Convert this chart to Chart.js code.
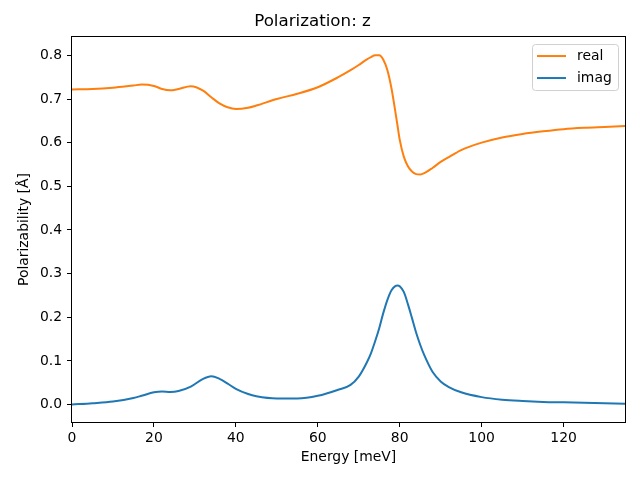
<!DOCTYPE html>
<html>
<head>
<meta charset="utf-8">
<script src="https://cdn.jsdelivr.net/npm/chart.js@4/dist/chart.umd.min.js"></script>
<style>
  html, body { margin: 0; padding: 0; background: #fff; }
  canvas { display: block; }
</style>
</head>
<body>
<canvas id="chart" width="640" height="480"></canvas>
<script>
// energy grid [meV] shared by both series
const energy = [0, 5, 10, 15, 17, 20, 22, 24, 26, 29, 32, 34, 36, 38, 40, 43, 45, 50, 55, 60, 65, 68, 70, 72, 73, 74, 75, 76, 77, 78, 79, 79.5, 80, 81, 82, 83, 84, 85, 86, 88, 90, 92, 95, 100, 105, 110, 115, 120, 125, 130, 135];
const realPart = [0.722, 0.723, 0.726, 0.731, 0.733, 0.730, 0.723, 0.720, 0.723, 0.729, 0.719, 0.704, 0.690, 0.681, 0.677, 0.680, 0.685, 0.700, 0.712, 0.727, 0.750, 0.766, 0.778, 0.791, 0.796, 0.800, 0.800, 0.790, 0.766, 0.724, 0.667, 0.637, 0.607, 0.568, 0.546, 0.534, 0.528, 0.527, 0.530, 0.542, 0.556, 0.567, 0.583, 0.600, 0.612, 0.620, 0.626, 0.631, 0.634, 0.636, 0.638];
const imagPart = [0.000, 0.003, 0.007, 0.015, 0.020, 0.028, 0.030, 0.029, 0.031, 0.041, 0.059, 0.065, 0.059, 0.048, 0.036, 0.024, 0.019, 0.014, 0.014, 0.020, 0.034, 0.045, 0.064, 0.097, 0.118, 0.145, 0.175, 0.210, 0.240, 0.262, 0.272, 0.273, 0.271, 0.258, 0.230, 0.198, 0.165, 0.137, 0.113, 0.075, 0.053, 0.040, 0.028, 0.017, 0.011, 0.008, 0.006, 0.005, 0.004, 0.003, 0.002];
const xTicks = [0, 20, 40, 60, 80, 100, 120];
const yTicks = [0.0, 0.1, 0.2, 0.3, 0.4, 0.5, 0.6, 0.7, 0.8];

const FONT = "'DejaVu Sans', sans-serif";
const points = vals => energy.map((e, i) => ({ x: e, y: vals[i] }));

// matplotlib-like frame round the plot area
const frame = {
  id: "frame",
  afterDraw(chart) {
    const { ctx, chartArea: a } = chart;
    ctx.save();
    ctx.strokeStyle = "#000";
    ctx.lineWidth = 1;
    ctx.strokeRect(Math.round(a.left) - 0.5, Math.round(a.top) - 0.5, Math.round(a.right - a.left) + 1, Math.round(a.bottom - a.top) + 1);
    ctx.restore();
  }
};

// legend box in the upper right corner, like matplotlib's
const boxLegend = {
  id: "boxLegend",
  afterDraw(chart) {
    const { ctx, chartArea: a } = chart;
    const w = 86, h = 46;
    const x = a.right - 7 - w, y = a.top + 7;
    ctx.save();
    ctx.fillStyle = "rgba(255,255,255,0.8)";
    ctx.strokeStyle = "#d0d0d0";
    ctx.lineWidth = 1;
    ctx.beginPath();
    ctx.roundRect(x + 0.5, y + 0.5, w, h, 3);
    ctx.fill();
    ctx.stroke();
    ctx.font = `13.9px ${FONT}`;
    ctx.textBaseline = "middle";
    chart.data.datasets.forEach((ds, i) => {
      const ly = y + 12 + i * 22;
      ctx.strokeStyle = ds.borderColor;
      ctx.lineWidth = 2;
      ctx.beginPath();
      ctx.moveTo(x + 5, ly);
      ctx.lineTo(x + 34, ly);
      ctx.stroke();
      ctx.fillStyle = "#000";
      ctx.fillText(ds.label, x + 45, ly);
    });
    ctx.restore();
  }
};

new Chart(document.getElementById("chart"), {
  type: "line",
  data: {
    datasets: [
      { label: "real", data: points(realPart), borderColor: "#ff7f0e", borderWidth: 2, pointRadius: 0, cubicInterpolationMode: "monotone", fill: false },
      { label: "imag", data: points(imagPart), borderColor: "#1f77b4", borderWidth: 2, pointRadius: 0, cubicInterpolationMode: "monotone", fill: false }
    ]
  },
  options: {
    responsive: false,
    animation: false,
    layout: { padding: { left: 0, right: 15, top: 0, bottom: 0 } },
    plugins: {
      legend: { display: false },
      tooltip: { enabled: false },
      title: {
        display: true,
        text: "Polarization: z",
        color: "#000",
        font: { family: FONT, size: 16.7, weight: "normal" },
        padding: { top: 12, bottom: 5 }
      }
    },
    scales: {
      x: {
        type: "linear",
        min: 0,
        max: 135,
        afterFit(scale) { scale.height = 58; },
        afterBuildTicks(scale) { scale.ticks = xTicks.map(v => ({ value: v })); },
        grid: { display: true, drawOnChartArea: false, drawTicks: true, tickLength: 5, color: "#000" },
        border: { display: false },
        ticks: { color: "#000", padding: 3, maxRotation: 0, font: { family: FONT, size: 13.9 }, callback: v => String(v) },
        title: { display: true, text: "Energy [meV]", color: "#000", font: { family: FONT, size: 13.9 }, padding: { top: 4, bottom: 14 } }
      },
      y: {
        min: -0.040,
        max: 0.842,
        afterFit(scale) { scale.width = 72; },
        afterBuildTicks(scale) { scale.ticks = yTicks.map(v => ({ value: v })); },
        grid: { display: true, drawOnChartArea: false, drawTicks: true, tickLength: 5, color: "#000" },
        border: { display: false },
        ticks: { color: "#000", padding: 5, font: { family: FONT, size: 13.9 }, callback: v => v.toFixed(1) },
        title: { display: true, text: "Polarizability [Å]", color: "#000", font: { family: FONT, size: 13.9 }, padding: { top: 16, bottom: 16 } }
      }
    }
  },
  plugins: [frame, boxLegend]
});
</script>
</body>
</html>
